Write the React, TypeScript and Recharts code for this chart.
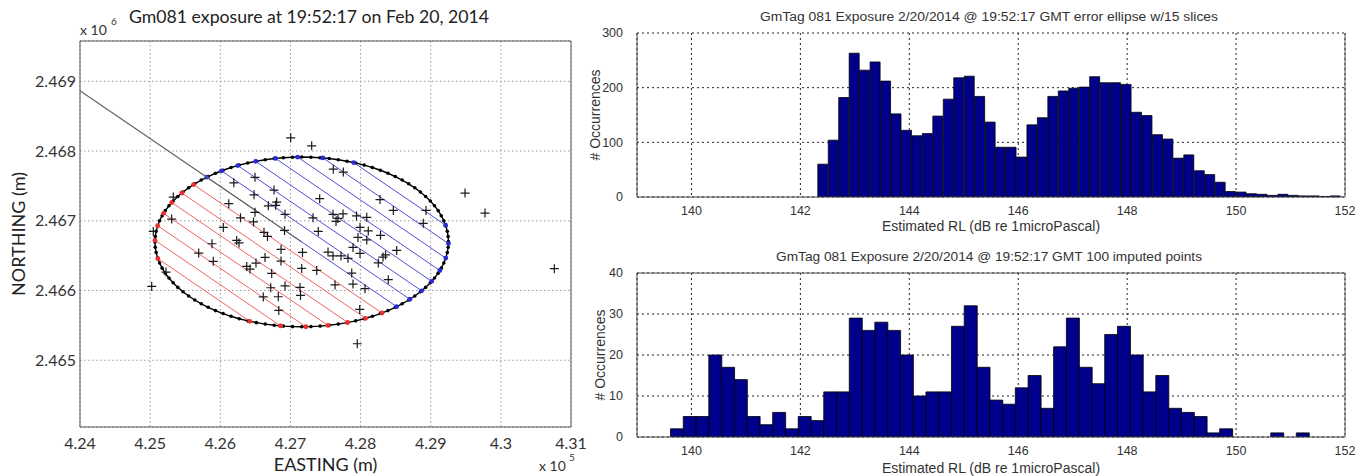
import React from 'react';
import {
  ScatterChart,
  Scatter,
  BarChart,
  Bar,
  XAxis,
  YAxis,
  CartesianGrid,
  ReferenceLine,
} from 'recharts';

// ---------------- Left panel data ----------------
const eastingDomain = [424000, 431000];
const northingDomain = [2464043, 2469578];
const eastingTicks = [424000, 425000, 426000, 427000, 428000, 429000, 430000, 431000];
const northingTicks = [2465000, 2466000, 2467000, 2468000, 2469000];

const imputedEasting = [
  427004, 427303, 427611, 427754, 428277, 428467, 428933, 428894, 426193, 426495,
  426766, 426481, 426121, 425330, 425307, 425045, 426804, 426685, 426923, 427417,
  426495, 427322, 427607, 427678, 427750, 427650, 427942, 428088, 427992, 428110,
  428284, 426043, 426288, 426474, 426623, 426673, 426916, 427397, 427963, 428088,
  425882, 426234, 426267, 426866, 427172, 427536, 427607, 427721, 427821, 427892,
  427992, 428515, 428320, 428356, 428253, 425692, 425900, 425226, 426377, 426424,
  426509, 426638, 426733, 427161, 426866, 427375, 427874, 428395, 426923, 427137,
  427636, 427892, 428063, 426719, 426613, 426827, 427144, 426834, 427988, 427953,
  425022, 429489, 429774, 430762, 426790,
];
const imputedNorthing = [
  2468189, 2468075, 2467740, 2467699, 2467304, 2467149, 2467149, 2466963, 2467544, 2467623,
  2467440, 2467372, 2467245, 2467340, 2467024, 2466848, 2467268, 2467214, 2467092, 2467317,
  2467121, 2467042, 2467092, 2467034, 2467099, 2466991, 2467070, 2467049, 2466905, 2466855,
  2466791, 2466905, 2467042, 2466984, 2466834, 2466776, 2466862, 2466848, 2466762, 2466726,
  2466671, 2466719, 2466683, 2466590, 2466547, 2466551, 2466496, 2466496, 2466461, 2466618,
  2466532, 2466575, 2466479, 2466511, 2466396, 2466537, 2466418, 2466264, 2466346, 2466307,
  2466393, 2466475, 2466245, 2466317, 2466422, 2466288, 2466250, 2466155, 2466066, 2466045,
  2466080, 2466092, 2466026, 2466040, 2465908, 2465911, 2465930, 2465715, 2465729, 2465237,
  2466059, 2467397, 2467110, 2466313, 2467221,
];

const ellipseCenter = { x: 427161, y: 2466697 };
const ellipseSemiAxes = { a: 2092, b: 1217 };
const ellipseVertexCount = 100;
const trackStart = { x: 424000, y: 2468864 };
const sliceLineCount = 15;

// ---------------- Right panel data ----------------
const rlTicks = [140, 142, 144, 146, 148, 150, 152];
const rlDomain = [139, 152];

const ellipseBinStart = 142.32;
const ellipseBinWidth = 0.192;
const ellipseCounts = [
  60, 104, 182, 263, 232, 247, 212, 152, 122, 112,
  116, 148, 179, 218, 221, 184, 137, 91, 91, 73,
  132, 145, 184, 194, 199, 201, 220, 209, 209, 206,
  155, 149, 114, 106, 71, 77, 48, 41, 27, 10,
  9, 6, 5, 3, 5, 3, 2, 2, 1, 2,
];
const ellipseCountTicks = [0, 100, 200, 300];

const imputedBinStart = 139.615;
const imputedBinWidth = 0.2345;
const imputedCounts = [
  2, 5, 5, 20, 17, 14, 5, 3, 6, 2,
  5, 4, 11, 11, 29, 26, 28, 26, 20, 10,
  11, 11, 27, 32, 17, 9, 8, 12, 15, 7,
  22, 29, 17, 13, 25, 27, 20, 11, 15, 7,
  6, 5, 1, 2, 0, 0, 0, 1, 0, 1,
];
const imputedCountTicks = [0, 10, 20, 30, 40];

// ---------------- Derived geometry ----------------
const imputedPoints = imputedEasting.map((x, i) => ({ x, y: imputedNorthing[i] }));

const ellipseOutline = Array.from({ length: ellipseVertexCount + 1 }, (_, i) => {
  const t = (2 * Math.PI * i) / ellipseVertexCount;
  return {
    x: ellipseCenter.x + ellipseSemiAxes.a * Math.cos(t),
    y: ellipseCenter.y + ellipseSemiAxes.b * Math.sin(t),
  };
});

const trackLine = [trackStart, ellipseCenter];

const trackDir = (() => {
  const dx = ellipseCenter.x - trackStart.x;
  const dy = ellipseCenter.y - trackStart.y;
  const L = Math.hypot(dx, dy);
  return { x: dx / L, y: dy / L };
})();
const sliceNormal = { x: trackDir.y, y: -trackDir.x };

const chords = (() => {
  const { a, b } = ellipseSemiAxes;
  const half = (sliceLineCount - 1) / 2;
  const h = Math.sqrt((a * sliceNormal.x) ** 2 + (b * sliceNormal.y) ** 2);
  const step = h / (half + 1);
  const out: { k: number; pts: { x: number; y: number }[] }[] = [];
  for (let k = -half; k <= half; k++) {
    const s = k * step;
    const u = s * sliceNormal.x;
    const v = s * sliceNormal.y;
    const A = (trackDir.x / a) ** 2 + (trackDir.y / b) ** 2;
    const B = 2 * ((u * trackDir.x) / (a * a) + (v * trackDir.y) / (b * b));
    const C = (u / a) ** 2 + (v / b) ** 2 - 1;
    const disc = Math.sqrt(B * B - 4 * A * C);
    const t1 = (-B - disc) / (2 * A);
    const t2 = (-B + disc) / (2 * A);
    out.push({
      k,
      pts: [
        { x: ellipseCenter.x + u + t1 * trackDir.x, y: ellipseCenter.y + v + t1 * trackDir.y },
        { x: ellipseCenter.x + u + t2 * trackDir.x, y: ellipseCenter.y + v + t2 * trackDir.y },
      ],
    });
  }
  return out;
})();

const ellipseHist = ellipseCounts.map((count, i) => ({
  center: ellipseBinStart + (i + 0.5) * ellipseBinWidth,
  count,
}));
const imputedHist = imputedCounts.map((count, i) => ({
  center: imputedBinStart + (i + 0.5) * imputedBinWidth,
  count,
}));

// ---------------- Styling helpers ----------------
const LEFT_FONT = 'Lato, "Open Sans", sans-serif';
const RIGHT_FONT = '"Liberation Sans", Arial, sans-serif';
const RED = '#f06464';
const BLUE = '#5050d8';

const fmtEasting = (v: number) => String(Number((v / 1e5).toFixed(2)));
const fmtNorthing = (v: number) => (v / 1e6).toFixed(3);

const PlusMarker = (props: any) => {
  const { cx, cy } = props;
  if (cx == null || cy == null) return <g />;
  const r = 4.5;
  return (
    <path
      d={`M${cx - r},${cy}H${cx + r}M${cx},${cy - r}V${cy + r}`}
      stroke="#1a1a1a"
      strokeWidth={1.2}
      fill="none"
    />
  );
};
const makeDot = (color: string, r: number) => (props: any) => {
  const { cx, cy } = props;
  if (cx == null || cy == null) return <g />;
  return <circle cx={cx} cy={cy} r={r} fill={color} />;
};
const BlackDot = makeDot('#000', 1.8);
const RedDot = makeDot('#e83030', 2.4);
const BlueDot = makeDot('#2a2ad0', 2.4);
const NoMarker = () => <g />;

function LeftPanel() {
  return (
    <ScatterChart width={600} height={476} margin={{ top: 41, right: 29, bottom: 0, left: 0 }}>
      <CartesianGrid stroke="#9a9a9a" strokeDasharray="1.5 2.5" />
      <XAxis
        type="number"
        dataKey="x"
        domain={eastingDomain}
        ticks={eastingTicks}
        allowDataOverflow
        tickFormatter={fmtEasting}
        height={49}
        tickSize={0}
        tickMargin={11}
        axisLine={{ stroke: '#555' }}
        tick={{ fill: '#333', fontSize: 16, fontFamily: LEFT_FONT }}
        label={{ value: 'EASTING (m)', position: 'insideBottom', offset: 5, fill: '#222', fontSize: 18, fontFamily: LEFT_FONT }}
      />
      <YAxis
        type="number"
        dataKey="y"
        domain={northingDomain}
        ticks={northingTicks}
        allowDataOverflow
        tickFormatter={fmtNorthing}
        width={80}
        tickSize={0}
        tickMargin={4}
        axisLine={{ stroke: '#555' }}
        tick={{ fill: '#333', fontSize: 16, fontFamily: LEFT_FONT }}
        label={{ value: 'NORTHING (m)', angle: -90, position: 'center', dx: -21, fill: '#222', fontSize: 18, fontFamily: LEFT_FONT }}
      />
      <ReferenceLine x={eastingDomain[1]} stroke="#555" />
      <ReferenceLine y={northingDomain[1]} stroke="#555" />
      <Scatter
        data={ellipseOutline}
        fill="#000"
        line={{ stroke: '#000', strokeWidth: 1.4 }}
        shape={BlackDot}
        isAnimationActive={false}
      />
      {chords.map((c) => (
        <Scatter
          key={c.k}
          data={c.pts}
          fill={c.k > 0 ? RED : BLUE}
          line={{ stroke: c.k > 0 ? RED : BLUE, strokeWidth: 1 }}
          shape={c.k > 0 ? RedDot : BlueDot}
          isAnimationActive={false}
        />
      ))}
      <Scatter
        data={trackLine}
        fill="#666"
        line={{ stroke: '#666', strokeWidth: 1.2 }}
        shape={NoMarker}
        isAnimationActive={false}
      />
      <Scatter data={imputedPoints} fill="#1a1a1a" shape={PlusMarker} isAnimationActive={false} />
    </ScatterChart>
  );
}

function Histogram(props: {
  data: { center: number; count: number }[];
  yTicks: number[];
  height: number;
  xAxisHeight: number;
  xLabelOffset: number;
  yLabelDx: number;
  topFrame: boolean;
}) {
  const { data, yTicks, height, xAxisHeight, xLabelOffset, yLabelDx, topFrame } = props;
  const yMax = yTicks[yTicks.length - 1];
  return (
    <BarChart
      width={784}
      height={height}
      data={data}
      margin={{ top: 33, right: 19, bottom: 0, left: 0 }}
      barCategoryGap={0}
      barGap={0}
    >
      <CartesianGrid stroke="#222" strokeDasharray="2 3" />
      <XAxis
        type="number"
        dataKey="center"
        domain={rlDomain}
        ticks={rlTicks}
        allowDataOverflow
        height={xAxisHeight}
        tickSize={0}
        tickMargin={9}
        axisLine={{ stroke: '#444' }}
        tick={{ fill: '#333', fontSize: 12.5, fontFamily: RIGHT_FONT }}
        label={{ value: 'Estimated RL (dB re 1microPascal)', position: 'insideBottom', offset: xLabelOffset, fill: '#333', fontSize: 14, fontFamily: RIGHT_FONT }}
      />
      <YAxis
        type="number"
        domain={[0, yMax]}
        ticks={yTicks}
        allowDataOverflow
        width={57}
        tickSize={0}
        tickMargin={14}
        axisLine={{ stroke: '#444' }}
        tick={{ fill: '#333', fontSize: 12.5, fontFamily: RIGHT_FONT }}
        label={{ value: '# Occurrences', angle: -90, position: 'center', dx: yLabelDx, fill: '#333', fontSize: 14, fontFamily: RIGHT_FONT }}
      />
      <Bar dataKey="count" fill="#00008b" stroke="#000" strokeWidth={0.8} isAnimationActive={false} />
      <ReferenceLine x={rlDomain[1]} stroke="#555" />
      {topFrame ? <ReferenceLine y={yMax} stroke="#555" /> : null}
    </BarChart>
  );
}

export default function App() {
  return (
    <div style={{ position: 'absolute', left: 0, top: 0, width: 1364, height: 476, background: '#fff', overflow: 'hidden' }}>
      <div style={{ position: 'absolute', left: 0, top: 0 }}>
        <LeftPanel />
      </div>
      <div style={{ position: 'absolute', left: 580, top: 0 }}>
        <Histogram data={ellipseHist} yTicks={ellipseCountTicks} height={240} xAxisHeight={43} xLabelOffset={9} yLabelDx={-13.5} topFrame={false} />
      </div>
      <div style={{ position: 'absolute', left: 580, top: 240 }}>
        <Histogram data={imputedHist} yTicks={imputedCountTicks} height={236} xAxisHeight={39} xLabelOffset={3} yLabelDx={-8.5} topFrame={true} />
      </div>
      <svg width={1364} height={476} style={{ position: 'absolute', left: 0, top: 0, pointerEvents: 'none' }}>
        <text x={309} y={23} textAnchor="middle" fontFamily={LEFT_FONT} fontSize={17.7} fill="#222">
          Gm081 exposure at 19:52:17 on Feb 20, 2014
        </text>
        <text x={80} y={35} fontFamily={LEFT_FONT} fontSize={14} fill="#333">x 10</text>
        <text x={111} y={25} fontFamily={LEFT_FONT} fontSize={10} fill="#333">6</text>
        <text x={539} y={471} fontFamily={LEFT_FONT} fontSize={14} fill="#333">x 10</text>
        <text x={569} y={461} fontFamily={LEFT_FONT} fontSize={10} fill="#333">5</text>
        <text x={989} y={21} textAnchor="middle" fontFamily={RIGHT_FONT} fontSize={12.5} fill="#333" textLength={458} lengthAdjust="spacingAndGlyphs">
          GmTag 081 Exposure 2/20/2014 @ 19:52:17 GMT error ellipse w/15 slices
        </text>
        <text x={989} y={261} textAnchor="middle" fontFamily={RIGHT_FONT} fontSize={12.5} fill="#333" textLength={426} lengthAdjust="spacingAndGlyphs">
          GmTag 081 Exposure 2/20/2014 @ 19:52:17 GMT 100 imputed points
        </text>
      </svg>
    </div>
  );
}
